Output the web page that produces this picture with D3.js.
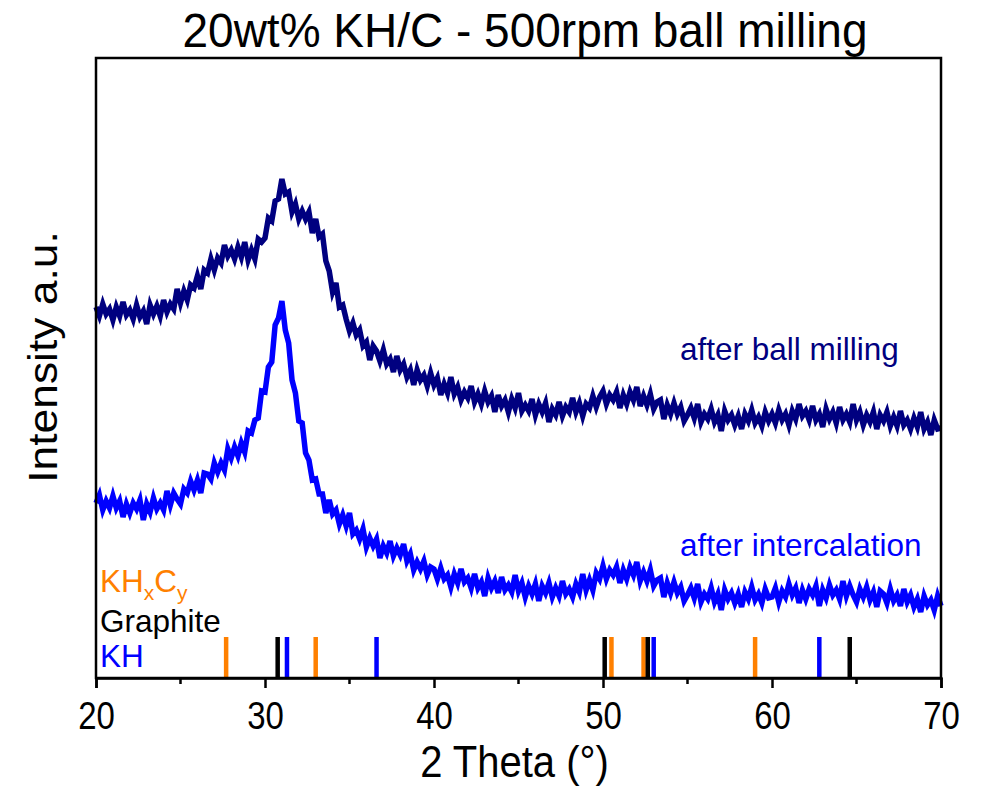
<!DOCTYPE html>
<html>
<head>
<meta charset="utf-8">
<script src="https://cdn.jsdelivr.net/npm/d3@7"></script>
<style>
  body { margin: 0; background: #fff; }
  svg text { font-family: "Liberation Sans", Arial, sans-serif; }
</style>
</head>
<body>
<div id="chart"></div>
<script>
// 2 theta grid of the scans: 20 to 70 deg, 0.2 deg step
const thetaStart = 20, thetaStep = 0.2

// intensities (a.u.), one per grid step
const afterBallMilling = [
  371,362,374,364,369, 358,371,362,376,363, 368,359,373,361,367, 354,373,364,372,362,
  378,366,374,369,389, 375,387,378,393,390, 402,389,408,405,419, 408,420,415,433,422,
  428,419,431,421,436, 418,428,419,439,436,
  440,460,457,477,479, 499,484,486,466,474, 459,467,459,466,445, 459,441,444,417,407,
  386,395,371,373,359, 347,355,343,348,332, 336,318,332,327,317, 328,314,319,306,322,
  308,314,301,308,293, 308,298,303,292,305,
  293,300,283,294,285, 301,284,291,278,286, 280,292,276,284,274, 287,276,282,266,283,
  272,278,266,279,270, 285,267,273,267,279, 263,274,266,275,256, 269,263,276,262,271,
  266,280,266,275,262, 274,270,282,271,281,
  287,274,283,278,286, 270,283,274,286,278, 291,272,282,273,284, 269,276,278,259,273,
  264,275,264,271,257, 263,270,260,274,256, 264,259,269,256,263, 247,267,258,263,253,
  262,249,264,257,268, 255,261,252,266,257,
  264,255,268,258,264, 253,267,259,274,262, 267,258,272,258,264, 251,269,259,266,255,
  271,258,264,256,274, 258,266,253,263,256, 266,249,263,257,266, 252,261,252,267,253,
  258,249,260,251,266, 249,256,243,258,249,
  250
]

const afterIntercalation = [
  175,183,168,177,170, 182,170,177,161,174, 165,175,169,178,158, 174,166,180,169,175,
  168,187,173,185,179, 174,189,185,197,188, 198,185,205,204,199, 215,206,215,208,229,
  220,231,222,235,226, 247,245,258,260,287,
  286,311,316,353,360, 377,348,335,298,285, 257,255,225,218,198, 199,184,184,165,178,
  164,168,154,163,152, 165,144,148,139,149, 131,140,132,139,120, 132,125,137,122,130,
  123,134,117,124,108, 116,109,117,103,111,
  109,99,110,99,103, 91,104,95,109,96, 100,90,104,90,96, 82,100,90,97,85,
  101,88,93,86,103, 87,95,81,92,84, 94,77,92,85,95, 81,90,82,97,84,
  89,81,94,86,104, 88,98,88,105,99,
  112,99,108,103,111, 95,108,99,111,103, 116,97,106,97,108, 92,98,100,81,95,
  85,96,85,91,77, 83,90,80,94,76, 84,79,90,76,84, 68,88,79,85,75,
  84,71,86,79,91, 78,84,75,89,80,
  81,90,76,87,81, 94,83,90,75,88, 79,89,83,92,72, 88,80,93,83,88,
  79,97,82,92,83, 76,89,81,91,78, 86,71,87,84,75, 89,77,83,72,89,
  76,83,71,79,66, 82,73,78,68,82,
  72
]

// reference reflections (2 theta, deg)
const khxcyPeaks = [27.7, 33.0, 50.5, 52.4, 59.0]
const graphitePeaks = [30.75, 50.1, 52.65, 64.6]
const khPeaks = [31.3, 36.6, 53.0, 62.8]
const stickHeight = 41

const xTicks = [20, 30, 40, 50, 60, 70]
const xMinorTicks = [25, 35, 45, 55, 65]

const width = 987
const height = 788
const margin = {top: 58, right: 46, bottom: 110, left: 96}

const svg = d3.select("#chart")
  .append("svg")
  .attr("width", width)
  .attr("height", height)

const x = d3.scaleLinear()
  .domain([20, 70])
  .range([margin.left, width - margin.right])

const y = d3.scaleLinear()
  .domain([0, 620])
  .range([height - margin.bottom, margin.top])

const toPoints = arr => arr.map((v, i) => [thetaStart + i * thetaStep, v])

const line = d3.line()
  .x(d => x(d[0]))
  .y(d => y(d[1]))

const plot = svg.append("g")

// scans
const scans = [
  {data: afterBallMilling, color: "#000080"},
  {data: afterIntercalation, color: "#0000ff"}
]
plot.selectAll("path.scan")
  .data(scans)
  .join("path")
  .attr("class", "scan")
  .attr("d", d => line(toPoints(d.data)))
  .attr("fill", "none")
  .attr("stroke", d => d.color)
  .attr("stroke-width", 5.5)
  .attr("stroke-linejoin", "miter")

// reference sticks
const sticks = [
  {peaks: khxcyPeaks, color: "#ff8000"},
  {peaks: graphitePeaks, color: "#000000"},
  {peaks: khPeaks, color: "#0000ff"}
]
sticks.forEach(s => {
  plot.selectAll(null)
    .data(s.peaks)
    .join("line")
    .attr("x1", d => x(d))
    .attr("x2", d => x(d))
    .attr("y1", y(0))
    .attr("y2", y(stickHeight))
    .attr("stroke", s.color)
    .attr("stroke-width", 4.5)
})

// frame
svg.append("rect")
  .attr("x", margin.left)
  .attr("y", margin.top)
  .attr("width", width - margin.left - margin.right)
  .attr("height", height - margin.top - margin.bottom)
  .attr("fill", "none")
  .attr("stroke", "#000")
  .attr("stroke-width", 2.5)

// x axis
const xAxis = svg.append("g")
  .attr("transform", `translate(0,${height - margin.bottom})`)
  .call(d3.axisBottom(x).tickValues(xTicks).tickSize(10).tickFormat(d3.format("d")))
xAxis.select(".domain").attr("stroke-width", 2.5)
xAxis.selectAll(".tick line").attr("stroke-width", 2.5)
xAxis.selectAll(".tick text")
  .attr("font-size", 33)
  .attr("font-family", "Liberation Sans, Arial, sans-serif")
  .attr("y", 0)
  .attr("dy", 0)
  .attr("transform", "translate(0,51) scale(1,1.2)")

xAxis.selectAll("line.minor")
  .data(xMinorTicks)
  .join("line")
  .attr("class", "minor")
  .attr("x1", d => x(d))
  .attr("x2", d => x(d))
  .attr("y1", 0)
  .attr("y2", 6)
  .attr("stroke", "#000")
  .attr("stroke-width", 2.5)

// titles
svg.append("text")
  .attr("transform", "translate(525,47) scale(1,1.05)")
  .attr("text-anchor", "middle")
  .attr("font-size", 46)
  .text("20wt% KH/C - 500rpm ball milling")

svg.append("text")
  .attr("transform", `translate(${x(45) - 4},777) scale(1,1.1)`)
  .attr("text-anchor", "middle")
  .attr("font-size", 40)
  .text("2 Theta (°)")

svg.append("text")
  .attr("transform", "translate(57,357) scale(1,1.11) rotate(-90)")
  .attr("text-anchor", "middle")
  .attr("font-size", 40)
  .text("Intensity a.u.")

// curve labels
svg.append("text")
  .attr("x", 680)
  .attr("y", 360)
  .attr("font-size", 31.5)
  .attr("fill", "#000080")
  .text("after ball milling")

svg.append("text")
  .attr("x", 680)
  .attr("y", 556)
  .attr("font-size", 31.5)
  .attr("fill", "#0000ff")
  .text("after intercalation")

// legend for reference sticks
const leg = svg.append("g").attr("font-size", 31.5)
const khxcy = leg.append("text")
  .attr("x", 100)
  .attr("y", 592)
  .attr("fill", "#ff8000")
khxcy.append("tspan").text("KH")
khxcy.append("tspan").attr("font-size", 21).attr("dy", 8).text("x")
khxcy.append("tspan").attr("dy", -8).text("C")
khxcy.append("tspan").attr("font-size", 21).attr("dy", 8).text("y")

leg.append("text")
  .attr("x", 100)
  .attr("y", 632)
  .attr("fill", "#000")
  .text("Graphite")

leg.append("text")
  .attr("x", 100)
  .attr("y", 667)
  .attr("fill", "#0000ff")
  .text("KH")
</script>
</body>
</html>
